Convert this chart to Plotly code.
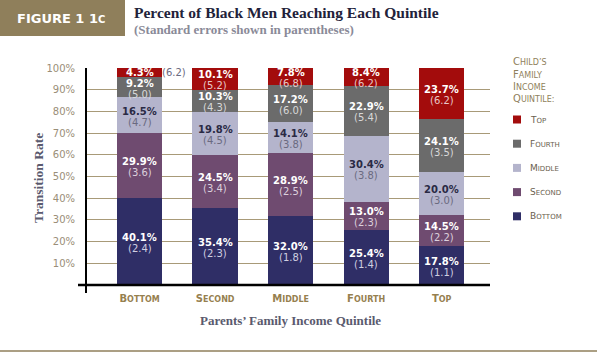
import plotly.graph_objects as go

# ---- data ----
parents = ["Bottom", "Second", "Middle", "Fourth", "Top"]
child_quintiles = ["Bottom", "Second", "Middle", "Fourth", "Top"]
bottom_vals = [40.1, 35.4, 32.0, 25.4, 17.8]
second_vals = [29.9, 24.5, 28.9, 13.0, 14.5]
middle_vals = [16.5, 19.8, 14.1, 30.4, 20.0]
fourth_vals = [9.2, 10.3, 17.2, 22.9, 24.1]
top_vals = [4.3, 10.1, 7.8, 8.4, 23.7]
bottom_se = [2.4, 2.3, 1.8, 1.4, 1.1]
second_se = [3.6, 3.4, 2.5, 2.3, 2.2]
middle_se = [4.7, 4.5, 3.8, 3.8, 3.0]
fourth_se = [5.0, 4.3, 6.0, 5.4, 3.5]
top_se = [6.2, 5.2, 6.8, 6.2, 6.2]
y_ticks = [10, 20, 30, 40, 50, 60, 70, 80, 90, 100]

series_vals = [bottom_vals, second_vals, middle_vals, fourth_vals, top_vals]
series_se = [bottom_se, second_se, middle_se, fourth_se, top_se]
colors = ["#2f2e66", "#6f4b70", "#b4b4cc", "#6b6b6b", "#a30c0c"]
pct_colors = ["#ffffff", "#ffffff", "#2a2a44", "#ffffff", "#ffffff"]
se_colors = ["#cfcfe0", "#dcd0dc", "#6a6a80", "#d8d8d8", "#e8c8c8"]

TAN = "#8f7f5b"
W, H = 597, 355
L, R, T, B = 86, 490, 68, 285


def px(x):
    return (x - L) / (R - L)


def py(y):
    return (B - y) / (B - T)


def sc(word, big=10, small=8):
    """small caps via spans"""
    out = []
    for w in word.split(" "):
        out.append(f"<span style='font-size:{big}px'>{w[0].upper()}</span>"
                   f"<span style='font-size:{small}px'>{w[1:].upper()}</span>")
    return " ".join(out)


fig = go.Figure()
for name, vals, col in zip(child_quintiles, series_vals, colors):
    fig.add_trace(go.Bar(x=parents, y=vals, name=name, marker=dict(color=col, line=dict(width=0)),
                         width=0.6, showlegend=False, hoverinfo="skip"))

annotations = []
# segment labels
for i, p in enumerate(parents):
    cum = 0
    for k in range(5):
        v = series_vals[k][i]
        se = series_se[k][i]
        mid = cum + v / 2
        cum += v
        if v < 6:
            annotations.append(dict(x=p, y=mid, text=f"<b>{v:.1f}%</b>", showarrow=False,
                                    font=dict(family="DejaVu Sans", size=10, color=pct_colors[k])))
            annotations.append(dict(x=p, y=mid, text=f"({se:.1f})", showarrow=False, xshift=34,
                                    font=dict(family="DejaVu Sans", size=10, color="#6a6a80")))
        else:
            annotations.append(dict(x=p, y=mid, text=f"<b>{v:.1f}%</b>", showarrow=False, yshift=4,
                                    font=dict(family="DejaVu Sans", size=10, color=pct_colors[k])))
            annotations.append(dict(x=p, y=mid, text=f"({se:.1f})", showarrow=False, yshift=-7,
                                    font=dict(family="DejaVu Sans", size=10, color=se_colors[k])))

# header
annotations.append(dict(xref="paper", yref="paper", x=px(61), y=py(18), text="<b>FIGURE 1 1<span style='font-size:10px'>C</span></b>",
                        showarrow=False, xanchor="center", yanchor="middle",
                        font=dict(family="DejaVu Sans", size=13, color="white")))
annotations.append(dict(xref="paper", yref="paper", x=px(132), y=py(12), text="<b>Percent of Black Men Reaching Each Quintile</b>",
                        showarrow=False, xanchor="left", yanchor="middle",
                        font=dict(family="Liberation Serif", size=15.5, color="#22223a")))
annotations.append(dict(xref="paper", yref="paper", x=px(132), y=py(29), text="<b>(Standard errors shown in parentheses)</b>",
                        showarrow=False, xanchor="left", yanchor="middle",
                        font=dict(family="Liberation Serif", size=13, color="#8a8a98")))
# axis titles
annotations.append(dict(xref="paper", yref="paper", x=px(290), y=py(320), text="<b>Parents’ Family Income Quintile</b>",
                        showarrow=False, xanchor="center", yanchor="middle",
                        font=dict(family="Liberation Serif", size=13, color="#5a5a6e")))
annotations.append(dict(xref="paper", yref="paper", x=px(38), y=py(178), text="<b>Transition Rate</b>",
                        showarrow=False, xanchor="center", yanchor="middle", textangle=-90,
                        font=dict(family="Liberation Serif", size=13.5, color="#5a5a6e")))
# legend title
for j, w in enumerate(["Child’s", "Family", "Income", "Quintile:"]):
    annotations.append(dict(xref="paper", yref="paper", x=px(511), y=py(62 + 12.2 * j), text=sc(w, 10, 8),
                            showarrow=False, xanchor="left", yanchor="middle",
                            font=dict(family="DejaVu Sans", size=10, color=TAN)))

shapes = []
# legend items (top first)
for j, k in enumerate([4, 3, 2, 1, 0]):
    yc = 119.5 + 24.2 * j
    shapes.append(dict(type="rect", xref="paper", yref="paper", x0=px(513), x1=px(521), y0=py(yc + 4), y1=py(yc - 4),
                       fillcolor=colors[k], line=dict(width=0)))
    annotations.append(dict(xref="paper", yref="paper", x=px(528), y=py(yc), text=sc(child_quintiles[k], 9, 7),
                            showarrow=False, xanchor="left", yanchor="middle",
                            font=dict(family="DejaVu Sans", size=9, color="#6a604e")))

# header box
shapes.append(dict(type="rect", xref="paper", yref="paper", x0=px(0), x1=px(125), y0=py(36), y1=py(0),
                   fillcolor=TAN, line=dict(width=0), layer="below"))
# axes lines
shapes.append(dict(type="line", xref="paper", yref="paper", x0=px(L), x1=px(L), y0=py(293), y1=py(T),
                   line=dict(color="black", width=2)))
shapes.append(dict(type="line", xref="paper", yref="paper", x0=px(78), x1=px(R), y0=py(B), y1=py(B),
                   line=dict(color="black", width=2.5)))
# bottom rule
shapes.append(dict(type="line", xref="paper", yref="paper", x0=px(0), x1=px(W), y0=py(351), y1=py(351),
                   line=dict(color=TAN, width=1.5)))

fig.update_layout(
    width=W, height=H,
    margin=dict(l=L, r=W - R, t=T, b=H - B, pad=0, autoexpand=False),
    barmode="stack",
    plot_bgcolor="white", paper_bgcolor="white",
    annotations=annotations, shapes=shapes,
    showlegend=False,
)
fig.update_xaxes(range=[-0.71, 4.64], showgrid=False, zeroline=False, showline=False, automargin=False,
                 tickvals=parents, ticktext=[f"<b>{sc(p, 10, 8)}</b>" for p in parents],
                 tickfont=dict(family="DejaVu Sans", size=10, color="#96804f"), ticks="", ticklabelstandoff=6)
fig.update_yaxes(range=[0, 100], tickvals=y_ticks, ticktext=[f"{v}%" for v in y_ticks], automargin=False,
                 showgrid=True, gridcolor="#a89a78", gridwidth=1, zeroline=False, showline=False,
                 tickfont=dict(family="DejaVu Sans", size=10, color="#9a8e78"), ticks="", ticklabelstandoff=10)

fig.write_html("out.html", config={"displayModeBar": False},
               post_script="document.body.style.margin='0';document.body.style.overflow='hidden';")
